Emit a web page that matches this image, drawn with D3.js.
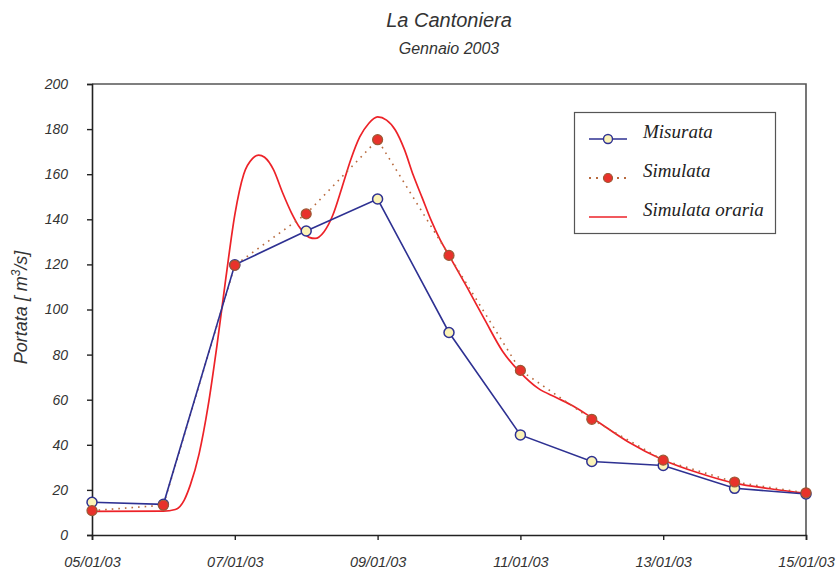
<!DOCTYPE html>
<html>
<head>
<meta charset="utf-8">
<script src="https://cdn.jsdelivr.net/npm/d3@7"></script>
<style>
  body { margin: 0; background: #fff; }
  text { font-family: "Liberation Sans", Arial, sans-serif; font-style: italic; fill: #333; }
  .leg { font-family: "Liberation Serif", "Times New Roman", serif; font-size: 19px; fill: #222; }
</style>
</head>
<body>
<div id="root"></div>
<script>
// daily dates 05/01/03 .. 15/01/03
var days = ["2003-01-05","2003-01-06","2003-01-07","2003-01-08","2003-01-09","2003-01-10",
            "2003-01-11","2003-01-12","2003-01-13","2003-01-14","2003-01-15"];
var misurata = [14.5, 13.6, 119.8, 134.8, 149, 89.8, 44.4, 32.6, 30.8, 20.7, 18.2];
var simulata = [10.8, 13.2, 119.6, 142.4, 175.3, 124, 73, 51.3, 33.2, 23.5, 18.7];
// simulata oraria: hours after 05/01/03 00:00
var orarieOre = [0, 24, 28, 31, 33, 36, 39, 42, 45, 48, 51, 54, 56, 58, 61, 64, 67, 70, 73, 75,
                 78, 81, 84, 87, 90, 93, 96, 99, 102, 105, 108, 111, 114, 117, 120, 126, 132,
                 138, 144, 150, 156, 162, 168, 180, 192, 204, 216, 228, 240];
var orarieVal = [10.5, 10.6, 11.3, 15.5, 22, 36, 57, 84, 114, 142, 160, 167, 168.5, 167.5, 162,
                 152, 143, 136, 132, 131.5, 134.5, 142, 154, 166.5, 176.5, 182.5, 185.4, 184,
                 179.5, 171, 159.5, 149.5, 139.5, 131, 124, 110, 95.5, 81.5, 72, 65, 61, 57, 52,
                 41.5, 33.3, 27.5, 23, 20.5, 18.5];
var xTicks = ["2003-01-05","2003-01-07","2003-01-09","2003-01-11","2003-01-13","2003-01-15"];
var yTicks = [0, 20, 40, 60, 80, 100, 120, 140, 160, 180, 200];

window.onload = function () {
    var W = 837, H = 571;
    var m = { left: 92, right: 31, top: 84, bottom: 36 };
    var parse = d3.utcParse("%Y-%m-%d");
    var t0 = parse(days[0]);

    var svg = d3.select("#root").append("svg")
        .attr("width", W).attr("height", H);

    var x = d3.scaleUtc()
        .domain([t0, parse(days[days.length - 1])])
        .range([m.left, W - m.right]);
    var y = d3.scaleLinear().domain([0, 200]).range([H - m.bottom, m.top]);

    // titles
    var cx = (m.left + W - m.right) / 2;
    svg.append("text").attr("x", cx).attr("y", 27).attr("text-anchor", "middle")
        .style("font-size", "20px").text("La Cantoniera");
    svg.append("text").attr("x", cx).attr("y", 54).attr("text-anchor", "middle")
        .style("font-size", "16px").text("Gennaio 2003");

    // frame top/right
    svg.append("path")
        .attr("d", "M" + m.left + "," + m.top + "H" + (W - m.right) + "V" + (H - m.bottom))
        .attr("fill", "none").attr("stroke", "#555").attr("stroke-width", 1.6);

    // y axis
    var yAxis = svg.append("g").attr("transform", "translate(" + m.left + ",0)")
        .call(d3.axisLeft(y).tickValues(yTicks).tickSize(5).tickPadding(19));
    yAxis.select(".domain").attr("stroke", "#222").attr("stroke-width", 1.6);
    yAxis.selectAll(".tick line").attr("stroke", "#222").attr("stroke-width", 1.4);
    yAxis.selectAll("text").style("font-size", "14px").style("font-family", null).attr("fill", "#333");

    // x axis
    var xAxis = svg.append("g").attr("transform", "translate(0," + (H - m.bottom) + ")")
        .call(d3.axisBottom(x).tickValues(xTicks.map(parse)).tickSize(5)
            .tickPadding(17).tickFormat(d3.utcFormat("%d/%m/%y")));
    xAxis.select(".domain").attr("stroke", "#222").attr("stroke-width", 1.6);
    xAxis.selectAll(".tick line").attr("stroke", "#222").attr("stroke-width", 1.4);
    xAxis.selectAll("text").style("font-size", "14.5px").style("font-family", null).attr("fill", "#333");

    // y label
    var yl = svg.append("text")
        .attr("transform", "translate(27," + (y(100) - 2) + ") rotate(-90)")
        .attr("text-anchor", "middle").style("font-size", "18px");
    yl.append("tspan").text("Portata [ m");
    yl.append("tspan").attr("dy", -7).style("font-size", "12px").text("3");
    yl.append("tspan").attr("dy", 7).text("/s]");

    var daily = days.map(parse);
    var hourly = orarieOre.map(function (h) { return new Date(t0.getTime() + h * 3600e3); });

    var lineD = d3.line().x(function (d) { return x(d[0]); }).y(function (d) { return y(d[1]); });

    // simulata oraria
    svg.append("path")
        .datum(d3.zip(hourly, orarieVal))
        .attr("d", lineD.curve(d3.curveMonotoneX))
        .attr("fill", "none").attr("stroke", "#ed2228").attr("stroke-width", 1.7);

    // simulata dotted
    var lineL = d3.line().x(function (d) { return x(d[0]); }).y(function (d) { return y(d[1]); });
    svg.append("path")
        .datum(d3.zip(daily, simulata))
        .attr("d", lineL)
        .attr("fill", "none").attr("stroke", "#b86a3e").attr("stroke-width", 1.6)
        .attr("stroke-dasharray", "1.6,5");

    // misurata line
    svg.append("path")
        .datum(d3.zip(daily, misurata))
        .attr("d", lineL)
        .attr("fill", "none").attr("stroke", "#2e3192").attr("stroke-width", 1.6);

    svg.append("g").selectAll("circle")
        .data(d3.zip(daily, misurata)).enter().append("circle")
        .attr("cx", function (d) { return x(d[0]); })
        .attr("cy", function (d) { return y(d[1]); })
        .attr("r", 5).attr("fill", "#fbf3b8").attr("stroke", "#2e3192").attr("stroke-width", 1.5);

    svg.append("g").selectAll("circle")
        .data(d3.zip(daily, simulata)).enter().append("circle")
        .attr("cx", function (d) { return x(d[0]); })
        .attr("cy", function (d) { return y(d[1]); })
        .attr("r", 5).attr("fill", "#e8322b").attr("stroke", "#9a5a35").attr("stroke-width", 1.2);

    // legend
    var lg = svg.append("g");
    lg.append("rect").attr("x", 574.5).attr("y", 112.5).attr("width", 201).attr("height", 121)
        .attr("fill", "#fff").attr("stroke", "#555").attr("stroke-width", 1.2);
    var rows = [139, 178, 217];
    lg.append("line").attr("x1", 589).attr("x2", 627).attr("y1", rows[0]).attr("y2", rows[0])
        .attr("stroke", "#2e3192").attr("stroke-width", 1.6);
    lg.append("circle").attr("cx", 608).attr("cy", rows[0]).attr("r", 4.5)
        .attr("fill", "#fbf3b8").attr("stroke", "#2e3192").attr("stroke-width", 1.4);
    lg.append("line").attr("x1", 589).attr("x2", 627).attr("y1", rows[1]).attr("y2", rows[1])
        .attr("stroke", "#b86a3e").attr("stroke-width", 1.8).attr("stroke-dasharray", "2,5");
    lg.append("circle").attr("cx", 608).attr("cy", rows[1]).attr("r", 4.5)
        .attr("fill", "#e8322b").attr("stroke", "#9a5a35").attr("stroke-width", 1.2);
    lg.append("line").attr("x1", 589).attr("x2", 627).attr("y1", rows[2]).attr("y2", rows[2])
        .attr("stroke", "#ed2228").attr("stroke-width", 1.7);
    var names = ["Misurata", "Simulata", "Simulata oraria"];
    names.forEach(function (n, i) {
        lg.append("text").attr("class", "leg").attr("x", 643).attr("y", rows[i] - 1).text(n);
    });
};
</script>
</body>
</html>
